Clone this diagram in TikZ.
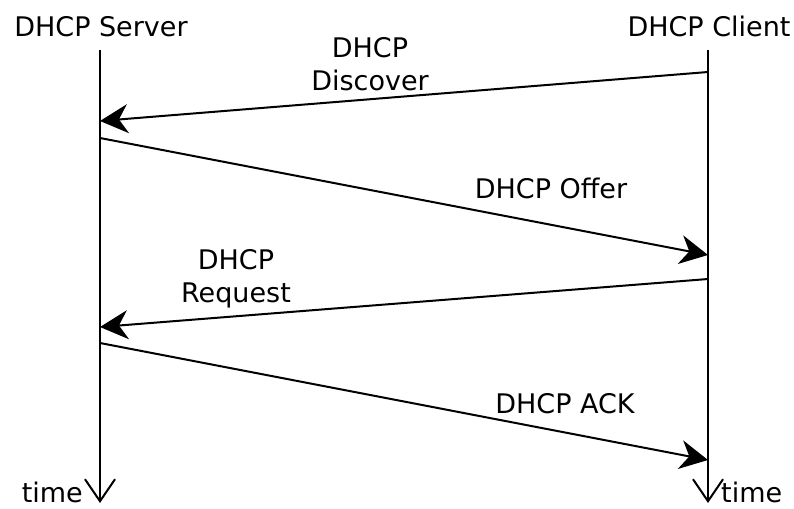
\documentclass[tikz,border=0pt]{standalone}
\usepackage{fontspec}
\setmainfont{DejaVu Sans}
\usetikzlibrary{arrows.meta}
\tikzset{
  lbl/.style={inner sep=0pt, font=\fontsize{27}{33}\selectfont, align=center},
  life/.style={line width=2pt, -{Straight Barb[length=22pt,width=30pt,line width=2pt]}},
  msg/.style={line width=2pt, -{Stealth[length=28pt,width=29pt,inset=9pt]}},
}
\begin{document}
\begin{tikzpicture}[x=1pt,y=-1pt]
\useasboundingbox (0,0) rectangle (794,508);
% headers
\node[lbl, anchor=base] (srv) at (101,37) {DHCP Server};
\node[lbl, anchor=base] (cli) at (709,37) {DHCP Client};
% lifelines
\coordinate (s0) at (100,50);
\coordinate (s1) at (100,503);
\coordinate (c0) at (708,50);
\coordinate (c1) at (708,503);
\draw[life] (s0) -- (s1);
\draw[life] (c0) -- (c1);
% message endpoints
\coordinate (m1a) at (708,72);
\coordinate (m1b) at (100,121);
\coordinate (m2a) at (100,138);
\coordinate (m2b) at (708,255);
\coordinate (m3a) at (708,279);
\coordinate (m3b) at (100,327);
\coordinate (m4a) at (100,343);
\coordinate (m4b) at (708,460);
\draw[msg] (m1a) -- (m1b);
\draw[msg] (m2a) -- (m2b);
\draw[msg] (m3a) -- (m3b);
\draw[msg] (m4a) -- (m4b);
% labels
\node[lbl, anchor=base] (l1) at (370,91) {DHCP\\Discover};
\node[lbl, anchor=base] (l2) at (551,198) {DHCP Offer};
\node[lbl, anchor=base] (l3) at (236,302) {DHCP\\Request};
\node[lbl, anchor=base] (l4) at (565,413) {DHCP ACK};
% time labels
\node[lbl, anchor=base east] (t1) at (83,502) {time};
\node[lbl, anchor=base west] (t2) at (721,502) {time};
\end{tikzpicture}
\end{document}
